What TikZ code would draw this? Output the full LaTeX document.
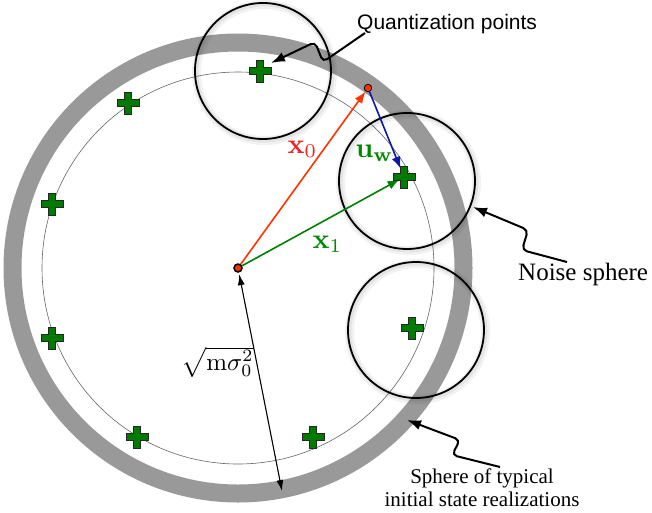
\documentclass[tikz,border=0pt]{standalone}
\usepackage[no-math]{fontspec}
\setmainfont{Liberation Serif}
\newfontfamily\labelsans{Liberation Sans}
\usetikzlibrary{arrows.meta}
\definecolor{ringgray}{RGB}{153,153,153}
\definecolor{vred}{RGB}{255,51,0}
\definecolor{lred}{RGB}{235,35,30}
\definecolor{vgreen}{RGB}{0,128,0}
\definecolor{lgreen}{RGB}{0,135,0}
\definecolor{vblue}{RGB}{10,25,170}
\definecolor{qgreen}{RGB}{0,122,0}
\begin{document}
\begin{tikzpicture}[x=1pt,y=-1pt,
  ring/.style={draw=ringgray, line width=18pt},
  orbit/.style={draw=black!60, line width=0.6pt},
  noise/.style={circle, draw=black, line width=1.8pt, inner sep=0pt, minimum size=136pt,
     preaction={draw=black, draw opacity=0.05, line width=9pt, transform canvas={shift={(1.5pt,-1.5pt)}}},
     preaction={draw=black, draw opacity=0.06, line width=5pt, transform canvas={shift={(1pt,-1pt)}}}},
  vec/.style={line width=1.6pt, -{Latex[length=12pt,width=9pt]}},
  dimline/.style={line width=1.1pt, {Latex[length=11pt,width=7pt]}-{Latex[length=11pt,width=7pt]}},
  wig/.style={line width=2pt, rounded corners=5pt, -{Latex[length=14pt,width=10pt]}},
  qpoint/.pic={\filldraw[fill=qgreen, draw=black!85, line width=0.8pt]
     (-11,-3.6) -- (-3.6,-3.6) -- (-3.6,-11) -- (3.6,-11) -- (3.6,-3.6) -- (11,-3.6)
     -- (11,3.6) -- (3.6,3.6) -- (3.6,11) -- (-3.6,11) -- (-3.6,3.6) -- (-11,3.6) -- cycle;},
  mathlbl/.style={anchor=base west, inner sep=0pt, scale=2.8}
]
\useasboundingbox (0,0) rectangle (652,512);

% rings
\draw[ring] (238,268) circle[radius=225.5];
\draw[orbit] (238,268) circle[radius=196];

% quantization point positions
\coordinate (q1) at (260,71);
\coordinate (q2) at (128,103);
\coordinate (q3) at (52,204);
\coordinate (q4) at (52,338);
\coordinate (q5) at (137,437);
\coordinate (q6) at (313,437);
\coordinate (q7) at (404,177);
\coordinate (q8) at (412,328);

% noise spheres
\node[noise] (n1) at (263,71) {};
\node[noise] (n2) at (407,181) {};
\node[noise] (n3) at (416,330) {};

% dots
\node[circle, fill=vred, draw=black, line width=1.5pt, inner sep=0pt, minimum size=8pt] (c) at (238,268) {};
\node[circle, fill=vred, draw=black, line width=0.8pt, inner sep=0pt, minimum size=7.5pt] (r) at (368,88) {};

% vectors
\draw[vec, vred] (c) -- (r);
\draw[vec, vgreen, shorten >=5pt] (c) -- (q7);
\draw[vec, vblue, shorten >=9pt] (r) -- (q7);

% radius dimension
\coordinate (rb) at (282,491);
\draw[dimline, shorten <=1.5pt] (c) -- (rb);

% quantization points
\foreach \p in {q1,q2,q3,q4,q5,q6,q7,q8} \pic at (\p) {qpoint};

% vector labels
\node[mathlbl, text=lred] (lx0) at (287,153) {$\mathbf{x}_0$};
\node[mathlbl, text=lgreen] (lx1) at (312,248) {$\mathbf{x}_1$};
\node[mathlbl, text=lgreen] (luw) at (355,157) {$\mathbf{u}_\mathbf{w}$};
\node[anchor=north east, inner sep=0pt, scale=2.5] (lsq) at (254,346) {$\sqrt{\mathrm{m}\sigma_0^2}$};

% callout labels
\node[anchor=base west, inner sep=0pt, font=\labelsans\fontsize{21}{25}\selectfont] (lq) at (357,29) {Quantization points};
\node[anchor=base west, inner sep=0pt, font=\fontsize{25}{28}\selectfont] (ln) at (518,280) {Noise sphere};
\node[anchor=base, inner sep=0pt, font=\fontsize{21}{23}\selectfont] (ls1) at (482,483) {Sphere of typical};
\node[anchor=base, inner sep=0pt, font=\fontsize{21}{23}\selectfont] (ls2) at (482,506) {initial state realizations};

% wiggle callout arrows
\coordinate (qs) at (365,33);
\coordinate (qe) at (271,63);
\draw[wig] (qs) -- (323,62) -- (315,42) -- (qe);
\coordinate (ns) at (567,262);
\coordinate (ne) at (473,207);
\draw[wig] (ns) -- (522,250) -- (528,230) -- (ne);
\coordinate (ss) at (500,467);
\coordinate (se) at (407,420);
\draw[wig] (ss) -- (452,455) -- (460,440) -- (se);
\end{tikzpicture}
\end{document}
